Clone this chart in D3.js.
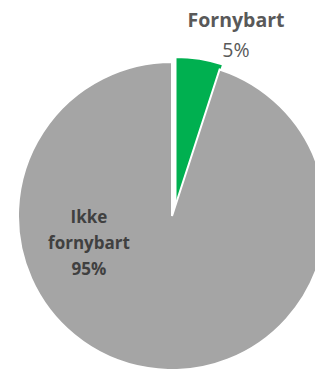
<!DOCTYPE html>
<html>
<head>
<meta charset="utf-8">
<script src="https://cdn.jsdelivr.net/npm/d3@7"></script>
<style>
  body { margin: 0; background: #fff; }
  svg { display: block; }
  text { font-family: "Open Sans", "Noto Sans", sans-serif; }
</style>
</head>
<body>
<svg id="chart" width="315" height="369"></svg>
<script>
const categories = ["Fornybart", "Ikke fornybart"];
const values = [5, 95];
const labelLines = [["Fornybart", "5%"], ["Ikke", "fornybart", "95%"]];
const colors = ["#00b050", "#a5a5a5"];

const svg = d3.select("#chart");
const cx = 172, cy = 216, r = 154;

const pie = d3.pie().sort(null).value(d => d)(values);
const arc = d3.arc().innerRadius(0).outerRadius(r);

// exploded slice offset (Fornybart)
const explode = [[3.5, -5], [0, 0]];

const g = svg.append("g").attr("transform", `translate(${cx},${cy})`);

g.selectAll("path")
  .data(pie)
  .enter()
  .append("path")
    .attr("d", arc)
    .attr("transform", (d, i) => `translate(${explode[i][0]},${explode[i][1]})`)
    .attr("fill", (d, i) => colors[i])
    .attr("stroke", "#fff")
    .attr("stroke-width", 2);

// outside label for small slice
const outLabel = svg.append("text")
  .attr("text-anchor", "middle")
  .attr("x", 236)
  .attr("y", 27);
outLabel.append("tspan")
  .attr("x", 236)
  .attr("font-weight", "bold")
  .attr("font-size", "19.5px")
  .attr("fill", "#595959")
  .text(labelLines[0][0]);
outLabel.append("tspan")
  .attr("x", 236)
  .attr("dy", 30)
  .attr("font-size", "19.5px")
  .attr("fill", "#595959")
  .text(labelLines[0][1]);

// inside label for big slice
const inLabel = svg.append("text")
  .attr("text-anchor", "middle")
  .attr("font-weight", "bold")
  .attr("font-size", "17px")
  .attr("fill", "#404040")
  .attr("y", 223);
inLabel.selectAll("tspan")
  .data(labelLines[1])
  .enter()
  .append("tspan")
    .attr("x", 89)
    .attr("dy", (d, i) => i == 0 ? 0 : 26)
    .text(d => d);
</script>
</body>
</html>
